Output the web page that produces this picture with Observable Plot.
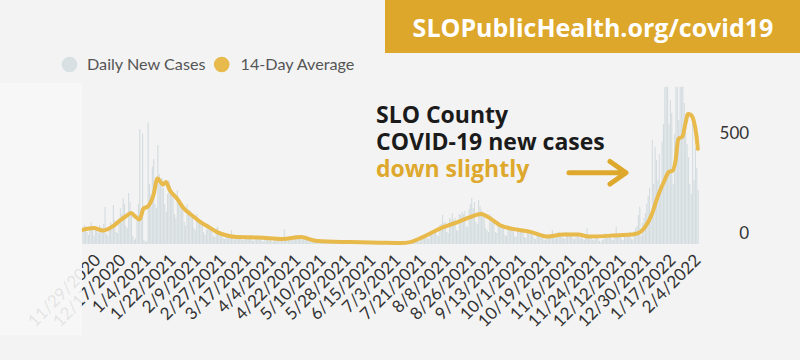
<!DOCTYPE html>
<html><head><meta charset="utf-8">
<script src="https://cdn.jsdelivr.net/npm/d3@7"></script>
<script src="https://cdn.jsdelivr.net/npm/@observablehq/plot@0.6"></script>
<style>
html,body{margin:0;padding:0;background:#f3f3f3;}
#wrap{position:relative;width:800px;height:360px;overflow:hidden;background:#f3f3f3;}
#chart{position:absolute;left:0;top:0;}
#over{position:absolute;left:0;top:0;}
</style></head><body>
<div id="wrap"><div id="chart"></div>
<svg id="over" width="800" height="360" xmlns="http://www.w3.org/2000/svg"></svg></div>
<script>
const startDate = "2020-11-18";
const endDate = "2022-02-05";
const dailyCases = [
70,95,88,60,45,90,110,85,40,75,80,55,95,
85,70,100,185,50,40,90,110,75,195,120,60,55,130,180,150,230,200,90,80,255,210,160,40,20,30,120,200,575,180,553,
20,10,15,608,300,250,387,425,200,180,495,350,300,330,280,200,160,250,320,290,260,240,150,130,270,205,220,190,170,110,90,
200,155,170,140,130,80,70,150,120,110,100,95,60,45,70,100,90,85,75,40,35,80,87,60,55,50,30,25,
55,50,45,40,70,25,20,45,40,38,35,42,20,18,40,38,35,30,45,18,15,35,33,30,28,35,15,12,30,28,32,
30,28,15,10,25,30,35,28,30,20,15,75,35,30,32,38,20,18,40,45,42,38,40,25,20,35,30,25,22,20,
10,8,20,18,15,17,16,8,6,15,14,12,13,15,7,5,14,12,13,11,12,6,5,13,12,11,10,12,5,4,6,
10,9,8,10,9,4,3,9,8,7,8,9,3,2,8,7,9,6,8,3,3,7,8,6,7,8,3,2,6,7,
7,6,3,2,4,8,10,12,14,6,5,16,18,22,25,28,15,12,35,40,45,48,50,30,25,60,65,70,72,75,45,
40,95,100,145,105,110,60,55,130,125,155,120,130,70,65,150,145,160,150,165,90,85,175,200,230,180,210,110,100,220,190,
170,160,150,80,70,60,150,140,120,110,60,55,110,100,95,90,85,45,40,95,90,80,85,75,40,35,85,80,75,70,
65,35,30,70,65,60,62,58,30,25,55,50,48,45,42,22,20,45,42,40,50,70,30,28,55,58,60,55,52,30,25,
60,58,55,52,50,28,25,55,58,52,30,50,25,22,48,80,45,42,40,22,20,45,42,40,15,10,20,25,55,50,
48,45,42,22,20,50,87,48,45,44,22,20,52,55,50,48,60,25,22,65,80,90,145,187,40,105,130,155,200,240,280,
150,520,300,487,420,320,450,250,512,600,786,786,786,600,720,655,300,550,786,786,620,786,786,786,705,560,500,435,300,250,605,
320,480,380,270
];
const avgDates = ["2020-11-18","2020-11-26","2020-12-03","2020-12-10","2020-12-15","2020-12-19","2020-12-23","2020-12-26","2020-12-29","2021-01-01","2021-01-04","2021-01-08","2021-01-11","2021-01-15","2021-01-17","2021-01-20","2021-01-25","2021-01-30","2021-02-05","2021-02-11","2021-02-17","2021-02-23","2021-03-02","2021-03-09","2021-03-25","2021-04-11","2021-04-24","2021-05-06","2021-05-30","2021-06-20","2021-07-05","2021-07-12","2021-07-21","2021-08-02","2021-08-15","2021-08-24","2021-09-01","2021-09-08","2021-09-15","2021-09-24","2021-10-07","2021-10-19","2021-10-30","2021-11-10","2021-11-17","2021-12-05","2021-12-21","2021-12-28","2022-01-02","2022-01-06","2022-01-11","2022-01-14","2022-01-17","2022-01-19","2022-01-21","2022-01-24","2022-01-26","2022-01-28","2022-01-30","2022-02-01","2022-02-03","2022-02-04"];
const avgValues = [73,82,70,92,120,140,157,140,125,180,190,245,330,300,312,270,230,180,145,112,87,62,45,37,35,28,37,17,12,9,7,12,37,78,112,137,153,128,95,78,62,40,50,50,40,45,53,87,153,237,320,362,370,420,528,540,603,653,648,620,545,478];
const tickLabels = ["11/29/2020","12/17/2020","1/4/2021","1/22/2021","2/9/2021","2/27/2021","3/17/2021","4/4/2021","4/22/2021","5/10/2021","5/28/2021","6/15/2021","7/3/2021","7/21/2021","8/8/2021","8/26/2021","9/13/2021","10/1/2021","10/19/2021","11/6/2021","11/24/2021","12/12/2021","12/30/2021","1/17/2022","2/4/2022"];
const yTicks = [0, 500];
const legendLabels = ["Daily New Cases", "14-Day Average"];
const titleLines = ["SLO County", "COVID-19 new cases", "down slightly"];
const bannerText = "SLOPublicHealth.org/covid19";

const parseISO = d3.utcParse("%Y-%m-%d");
const parseTick = d3.utcParse("%m/%d/%Y");
const start = parseISO(startDate);
const daily = dailyCases.map((v, i) => ({date: d3.utcDay.offset(start, i), value: v}));
const avg = avgDates.map((d, i) => ({date: parseISO(d), value: avgValues[i]}));
const tickDates = tickLabels.map(parseTick);

const BAR = "#d3dcdf", GOLD = "#e8b94b", DARKGOLD = "#dea82c";

const chart = Plot.plot({
  width: 800, height: 360,
  marginLeft: 82, marginRight: 101.3, marginTop: 84, marginBottom: 116,
  style: {background: "transparent", fontFamily: "Lato, sans-serif", fontSize: "17px", color: "#333", overflow: "visible"},
  x: {type: "utc", domain: [start, parseISO(endDate)], label: null},
  y: {domain: [0, 800], label: null},
  marks: [
    Plot.rectY(daily, {x: "date", y: "value", interval: d3.utcDay, fill: BAR, insetLeft: 0.3, insetRight: 0}),
    Plot.line(avg, {x: "date", y: "value", stroke: GOLD, strokeWidth: 4, curve: "monotone-x"}),
    Plot.axisX({ticks: tickDates, tickFormat: d3.utcFormat("%-m/%-d/%Y"), tickRotate: -45, tickSize: 0, tickPadding: 13, fontSize: 17, label: null}),
    Plot.axisY({anchor: "right", ticks: yTicks, tickSize: 0, textAnchor: "end", dx: 41, dy: -11, fontSize: 17, label: null})
  ]
});
document.getElementById("chart").appendChild(chart);

const svg = d3.select("#over");
// left fade panel
svg.append("rect").attr("x", 0).attr("y", 83).attr("width", 82).attr("height", 252).attr("fill", "#f7f7f7").attr("fill-opacity", 0.9);
// banner
svg.append("rect").attr("x", 385).attr("y", 0).attr("width", 415).attr("height", 53).attr("fill", "#dda72b");
svg.append("text").attr("x", 593).attr("y", 36.5).attr("text-anchor", "middle")
  .attr("font-family", "'Open Sans', sans-serif").attr("font-weight", 700).attr("font-size", 25).attr("fill", "#fff").text(bannerText);
// legend
const lg = [{cx: 69.5, tx: 87, color: "#d8e0e3"}, {cx: 221.7, tx: 240.5, color: GOLD}];
lg.forEach((l, i) => {
  svg.append("circle").attr("cx", l.cx).attr("cy", 64.5).attr("r", 7.8).attr("fill", l.color);
  svg.append("text").attr("x", l.tx).attr("y", 70.4).attr("font-family", "Lato, sans-serif").attr("font-size", 16.2).attr("fill", "#555").text(legendLabels[i]);
});
// title
const baselines = [123, 150, 177];
titleLines.forEach((t, i) => {
  svg.append("text").attr("x", 376).attr("y", baselines[i]).attr("font-family", "'Open Sans', sans-serif")
    .attr("font-weight", 700).attr("font-size", 23).attr("fill", i === 2 ? DARKGOLD : "#1b1b1b").text(t);
});
// arrow
svg.append("path").attr("d", "M569,172.7 L625,172.7 M610,161.5 L626,172.7 L610,184")
  .attr("fill", "none").attr("stroke", DARKGOLD).attr("stroke-width", 5).attr("stroke-linecap", "round").attr("stroke-linejoin", "round");
</script>
</body></html>
